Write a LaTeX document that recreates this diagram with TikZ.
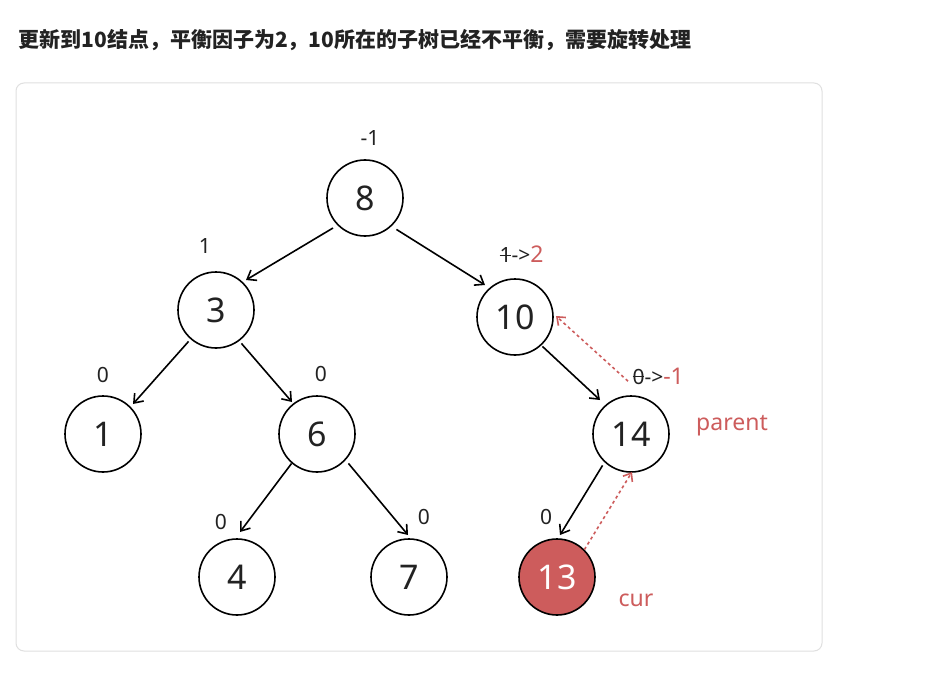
\documentclass[tikz,border=0pt]{standalone}
\usepackage{fontspec}
\setmainfont{Noto Sans}
\newfontfamily\cjk{Noto Sans CJK SC}
\usetikzlibrary{arrows.meta}
\definecolor{rd}{HTML}{CD5C5C}
\definecolor{tx}{HTML}{222222}
\newcommand{\strk}[1]{\rlap{\raisebox{0.32em}{\rule{0.55em}{0.9pt}}}#1}
\begin{document}
\begin{tikzpicture}[x=1pt,y=-1pt,
  nd/.style={circle,draw=black,line width=1.6pt,minimum size=76pt,inner sep=0pt,font=\fontsize{34}{34}\selectfont,text=tx},
  lb/.style={font=\fontsize{21}{21}\selectfont,text=tx},
  rl/.style={font=\fontsize{23}{23}\selectfont,text=rd},
  ed/.style={-{Straight Barb[length=8pt,width=12pt]},line width=1.6pt},
  dt/.style={-{Straight Barb[length=7pt,width=11pt]},rd,dash pattern=on 3pt off 3pt,line width=1.6pt}]
\useasboundingbox (0,0) rectangle (948,674);
\fill[white] (0,0) rectangle (948,674);
\node[anchor=west,font=\cjk\bfseries\fontsize{21}{21}\selectfont,text=tx] (title) at (15,40) {更新到10结点，平衡因子为2，10所在的子树已经不平衡，需要旋转处理};
\draw[black!12,line width=1pt,rounded corners=8pt] (16,83) rectangle (822,651);
\node[nd] (n8) at (365,198) {8};
\node[nd] (n3) at (216,310) {3};
\node[nd] (n10) at (515,317) {10};
\node[nd] (n1) at (103,434) {1};
\node[nd] (n6) at (317,434) {6};
\node[nd] (n14) at (631,434) {14};
\node[nd] (n4) at (237,577) {4};
\node[nd] (n7) at (409,577) {7};
\node[nd,fill=rd,text=white] (n13) at (557,577) {13};
\draw[ed] (n8) ++(-32,30) coordinate (a1) -- (246,280) coordinate (b1);
\draw[ed] (n8.south east) ++(4,4) -- (485,285);
\draw[ed] (n3.south west) ++(0,4) -- (133,404);
\draw[ed] (n3.south east) ++(-2,6) -- (292,402);
\draw[ed] (n6.south west) ++(2,2) -- (240,532);
\draw[ed] (n6.south east) ++(4,2) -- (408,535);
\draw[ed] (n10.south east) ++(0,2) -- (600,400);
\draw[ed] (n14.south west) ++(-1,4) -- (560,535);
\draw[dt] (n13.north east) -- (632,472);
\draw[dt] (n14.north) ++(-3,-14) -- (556,316);
\node[lb] (l8) at (370,138) {-1};
\node[lb] (l3) at (205,246) {1};
\node[lb,anchor=west] (l10) at (496,254) {\strk{1}->\textcolor{rd}{\fontsize{23}{23}\selectfont 2}};
\node[lb] (l1) at (103,375) {0};
\node[lb] (l6) at (321,374) {0};
\node[lb,anchor=west] (l14) at (629,376) {\strk{0}->\textcolor{rd}{\fontsize{23}{23}\selectfont -1}};
\node[lb] (l4) at (221,522) {0};
\node[lb] (l7) at (424,517) {0};
\node[lb] (l13) at (546,517) {0};
\node[rl] (p) at (732,426) {parent};
\node[rl] (c) at (636,600) {cur};
\end{tikzpicture}
\end{document}
